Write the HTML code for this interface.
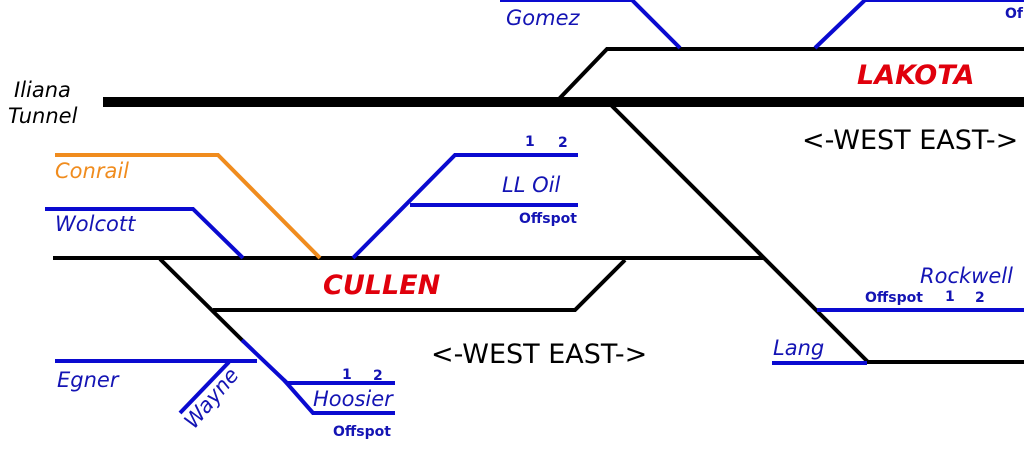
<!DOCTYPE html>
<html><head><meta charset="utf-8"><style>
html,body{margin:0;padding:0;background:#fff;}
svg{display:block;}
text{font-family:"DejaVu Sans","Liberation Sans",sans-serif;}
.b{fill:#1414b4;font-style:italic;font-size:21px;}
.s{fill:#1414b4;font-size:14px;font-weight:bold;}
.r{fill:#e0000c;font-style:italic;font-weight:bold;font-size:27px;}
.w{fill:#000;font-size:27px;}
</style></head><body>
<svg width="1024" height="456" viewBox="0 0 1024 456" xmlns="http://www.w3.org/2000/svg">
<g fill="none" stroke-linejoin="miter">
<line x1="103" y1="102" x2="1024" y2="102" stroke="#000" stroke-width="10"/>
<polyline points="558,100 607,49 1024,49" stroke="#000" stroke-width="4"/>
<line x1="610" y1="104" x2="868" y2="362" stroke="#000" stroke-width="4"/>
<line x1="866" y1="362" x2="1024" y2="362" stroke="#000" stroke-width="4"/>
<line x1="53" y1="258" x2="763" y2="258" stroke="#000" stroke-width="4"/>
<polyline points="213,310 575,310 625,260" stroke="#000" stroke-width="4"/>
<line x1="160" y1="259" x2="244" y2="342" stroke="#000" stroke-width="4"/>
<g stroke="#0a0ad0" stroke-width="4">
<polyline points="242,340 287,383 395,383"/>
<polyline points="284,380 313,413 395,413"/>
<line x1="55" y1="361" x2="257" y2="361"/>
<line x1="229" y1="362" x2="180" y2="413"/>
<polyline points="45,209 193,209 243,258"/>
<polyline points="353,258 455,155 578,155"/>
<line x1="410" y1="205" x2="578" y2="205"/>
<line x1="772" y1="363" x2="867" y2="363"/>
<line x1="817" y1="310" x2="1024" y2="310"/>
<polyline points="500,0 632,0 680,48"/>
<polyline points="815,48 865,0 1024,0"/>
</g>
<polyline points="55,155 218,155 320,258" stroke="#f08c1e" stroke-width="4"/>
</g>
<text x="14" y="97" font-style="italic" font-size="21" fill="#000">Iliana</text>
<text x="8" y="123" font-style="italic" font-size="21" fill="#000">Tunnel</text>
<text class="b" x="506" y="25">Gomez</text>
<text class="s" x="1005" y="18">Of</text>
<text class="r" x="857" y="84">LAKOTA</text>
<text class="w" x="802" y="149">&lt;-WEST EAST-&gt;</text>
<text class="w" x="431" y="363">&lt;-WEST EAST-&gt;</text>
<text class="r" x="323" y="294">CULLEN</text>
<text class="b" x="55" y="178" style="fill:#f08c1e">Conrail</text>
<text class="b" x="55" y="231">Wolcott</text>
<text class="s" x="525" y="146">1</text>
<text class="s" x="558" y="147">2</text>
<text class="b" x="502" y="192">LL Oil</text>
<text class="s" x="519" y="223">Offspot</text>
<text class="b" x="920" y="283">Rockwell</text>
<text class="s" x="865" y="302">Offspot</text>
<text class="s" x="945" y="301">1</text>
<text class="s" x="975" y="302">2</text>
<text class="b" x="773" y="355">Lang</text>
<text class="b" x="57" y="387">Egner</text>
<text class="b" x="0" y="0" transform="translate(194,430) rotate(-50)">Wayne</text>
<text class="s" x="342" y="379">1</text>
<text class="s" x="373" y="380">2</text>
<text class="b" x="313" y="406">Hoosier</text>
<text class="s" x="333" y="436">Offspot</text>
</svg>
</body></html>
